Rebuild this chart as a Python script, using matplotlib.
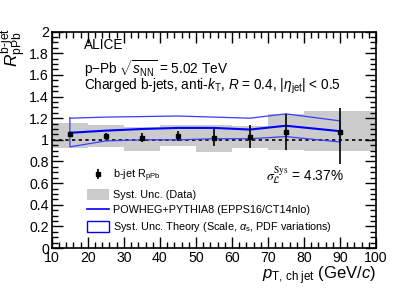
import numpy as np
import matplotlib
matplotlib.use('Agg')
import matplotlib.pyplot as plt
from matplotlib.patches import Rectangle
from matplotlib.lines import Line2D
from matplotlib.ticker import MultipleLocator

plt.rcParams['font.family'] = ['Liberation Sans', 'DejaVu Sans']
plt.rcParams['mathtext.fontset'] = 'custom'
plt.rcParams['mathtext.rm'] = 'Liberation Sans'
plt.rcParams['mathtext.it'] = 'Liberation Sans:italic'
plt.rcParams['mathtext.bf'] = 'Liberation Sans:bold'

# data points (b-jet R_pPb)
pt = [15, 25, 35, 45, 55, 65, 75, 90]
rpa = [1.05, 1.035, 1.02, 1.035, 1.02, 1.03, 1.075, 1.075]
err_lo = [0.02, 0.03, 0.04, 0.05, 0.08, 0.11, 0.165, 0.30]
err_hi = [0.02, 0.03, 0.04, 0.05, 0.08, 0.11, 0.165, 0.22]

# systematic boxes (data)
bin_edges = [10, 20, 30, 40, 50, 60, 70, 80, 100]
sys_lo = [0.92, 0.93, 0.90, 0.94, 0.89, 0.92, 0.91, 0.90]
sys_hi = [1.16, 1.14, 1.12, 1.14, 1.14, 1.13, 1.24, 1.27]

# POWHEG+PYTHIA8 theory
th_x = [15, 25, 35, 45, 55, 65, 75, 90]
th_c = [1.065, 1.085, 1.10, 1.11, 1.11, 1.095, 1.13, 1.08]
th_up = [1.20, 1.21, 1.215, 1.22, 1.21, 1.20, 1.24, 1.175]
th_dn = [0.935, 0.99, 1.00, 1.00, 1.01, 1.01, 1.03, 0.98]

fig = plt.figure(figsize=(4.15, 2.95), dpi=100)
ax = fig.add_axes([0.125, 0.159, 0.781, 0.734])

gray = '#cbcbcb'
for i in range(len(sys_lo)):
    ax.add_patch(Rectangle((bin_edges[i], sys_lo[i]), bin_edges[i+1] - bin_edges[i],
                           sys_hi[i] - sys_lo[i], facecolor=gray, edgecolor='none', zorder=1))

ax.axhline(1, color='black', ls=(0, (2, 2)), lw=1.2, zorder=2)

# theory band outline
bx = th_x + th_x[::-1] + [th_x[0]]
by = th_up + th_dn[::-1] + [th_up[0]]
ax.plot(bx, by, color='#3b3bff', lw=0.9, zorder=3)
ax.plot(th_x, th_c, color='#0000ff', lw=1.5, zorder=3)

pts = ax.errorbar(pt, rpa, yerr=[err_lo, err_hi], fmt='s', color='black', ms=3.5,
                  elinewidth=1.2, capsize=0, zorder=4)

ax.set_xlim(10, 100)
ax.set_ylim(0, 2)
ax.xaxis.set_major_locator(MultipleLocator(10))
ax.xaxis.set_minor_locator(MultipleLocator(2))
ax.yaxis.set_major_locator(MultipleLocator(0.2))
ax.yaxis.set_minor_locator(MultipleLocator(0.05))
ax.set_yticks(np.arange(0, 2.01, 0.2))
ax.set_yticklabels(['0', '0.2', '0.4', '0.6', '0.8', '1', '1.2', '1.4', '1.6', '1.8', '2'])
ax.tick_params(which='both', direction='in', top=True, right=True, labelsize=10.2, width=1, pad=2)
ax.tick_params(which='major', length=8)
ax.tick_params(which='minor', length=4)
for s in ax.spines.values():
    s.set_linewidth(1.2)

fig.text(0.034, 1 - 28 / 295, r'$R^{\mathrm{b\text{-}jet}}_{\mathrm{pPb}}$', fontsize=12.5,
         rotation=90, ha='center', va='top')
ax.set_xlabel(r'$p_{\mathrm{T,\,ch\;jet}}$ (GeV/$c$)', fontsize=12, loc='right', labelpad=0)

ax.text(0.1, 0.937, 'ALICE', transform=ax.transAxes, fontsize=9.8, va='center')
ax.text(0.1, 0.83, r'p$-$Pb $\sqrt{s_{\mathrm{NN}}}$ = 5.02 TeV', transform=ax.transAxes,
        fontsize=9.8, va='center')
ax.text(0.1, 0.745, r'Charged b-jets, anti-$k_{\mathrm{T}}$, $R$ = 0.4, $|\eta_{\mathrm{jet}}|$ < 0.5',
        transform=ax.transAxes, fontsize=9.8, va='center')
ax.text(0.90, 0.337, r'$\sigma^{\mathrm{Sys}}_{\mathcal{L}}$ = 4.37%', transform=ax.transAxes,
        fontsize=9.8, ha='right', va='center', math_fontfamily='stix')

handles = [
    pts,
    Rectangle((0, 0), 1, 1, facecolor=gray, edgecolor='none'),
    Line2D([], [], color='#0000ff', lw=1.2),
    Rectangle((0, 0), 1, 1, facecolor='none', edgecolor='#0000ff', lw=1),
]
labels = [r'b-jet R$_{\mathrm{pPb}}$', 'Syst. Unc. (Data)', 'POWHEG+PYTHIA8 (EPPS16/CT14nlo)',
          r'Syst. Unc. Theory (Scale, $\alpha_{\mathrm{s}}$, PDF variations)']
leg = ax.legend(handles, labels, loc='lower left', bbox_to_anchor=(0.108, 0.065), frameon=False,
                fontsize=7.8, handlelength=2.0, handleheight=1.15, labelspacing=0.42,
                handletextpad=0.45, borderaxespad=0, borderpad=0)

fig.savefig('out.png', dpi=100)
